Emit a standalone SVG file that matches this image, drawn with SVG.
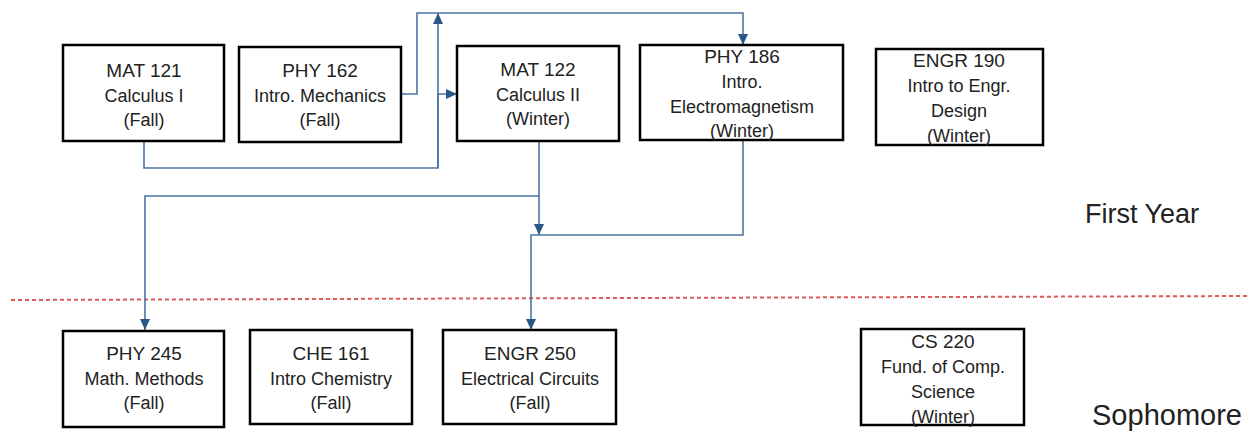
<svg xmlns="http://www.w3.org/2000/svg" width="1256" height="444" viewBox="0 0 1256 444">
<style>
.box{fill:#fff;stroke:#000;stroke-width:2.5}
.t{font-family:"Liberation Sans",Arial,sans-serif;font-size:18px;fill:#222;text-anchor:middle}
.h{font-size:19px}
.lbl{font-family:"Liberation Sans",Arial,sans-serif;fill:#222;text-anchor:middle}
.c{fill:none;stroke:#4A76A3;stroke-width:1.6}
</style>
<defs>
<marker id="arr" markerUnits="userSpaceOnUse" markerWidth="12" markerHeight="12" refX="11" refY="5" orient="auto">
<path d="M0,0 L11,5 L0,10 z" fill="#2A5886"/>
</marker>
</defs>
<line x1="11" y1="300" x2="1248" y2="296" stroke="#E05A5A" stroke-width="2" stroke-dasharray="4 3"/>
<g id="connectors">
<path class="c" d="M144,141 V168 H438 V94 H457" marker-end="url(#arr)"/>
<path class="c" d="M438,168 V13" marker-end="url(#arr)"/>
<path class="c" d="M401,94 H417 V13 H743 V45" marker-end="url(#arr)"/>
<path class="c" d="M539,141 V196 H145 V330" marker-end="url(#arr)"/>
<path class="c" d="M539,196 V235" marker-end="url(#arr)"/>
<path class="c" d="M743,140 V235 H531 V330" marker-end="url(#arr)"/>
</g>
<g id="mat121"><rect class="box" x="63" y="45" width="161" height="96"/>
<text class="t h" x="144" y="77">MAT 121</text><text class="t" x="144" y="102">Calculus I</text><text class="t" x="144" y="126">(Fall)</text></g>
<g id="phy162"><rect class="box" x="239" y="47" width="162" height="95"/>
<text class="t h" x="320" y="77">PHY 162</text><text class="t" x="320" y="102">Intro. Mechanics</text><text class="t" x="320" y="126">(Fall)</text></g>
<g id="mat122"><rect class="box" x="457" y="46" width="162" height="95"/>
<text class="t h" x="538" y="76">MAT 122</text><text class="t" x="538" y="101">Calculus II</text><text class="t" x="538" y="125">(Winter)</text></g>
<g id="phy186"><rect class="box" x="640" y="45" width="203" height="95"/>
<text class="t h" x="742" y="63">PHY 186</text><text class="t" x="742" y="88">Intro.</text><text class="t" x="742" y="113">Electromagnetism</text><text class="t" x="742" y="137">(Winter)</text></g>
<g id="engr190"><rect class="box" x="876" y="49" width="167" height="96"/>
<text class="t h" x="959" y="67">ENGR 190</text><text class="t" x="959" y="92">Intro to Engr.</text><text class="t" x="959" y="117">Design</text><text class="t" x="959" y="142">(Winter)</text></g>
<g id="phy245"><rect class="box" x="63" y="331" width="161" height="96"/>
<text class="t h" x="144" y="360">PHY 245</text><text class="t" x="144" y="385">Math. Methods</text><text class="t" x="144" y="409">(Fall)</text></g>
<g id="che161"><rect class="box" x="250" y="330" width="162" height="94"/>
<text class="t h" x="331" y="360">CHE 161</text><text class="t" x="331" y="385">Intro Chemistry</text><text class="t" x="331" y="409">(Fall)</text></g>
<g id="engr250"><rect class="box" x="443" y="330" width="173" height="94"/>
<text class="t h" x="530" y="360">ENGR 250</text><text class="t" x="530" y="385">Electrical Circuits</text><text class="t" x="530" y="409">(Fall)</text></g>
<g id="cs220"><rect class="box" x="861" y="329" width="163" height="96"/>
<text class="t h" x="943" y="348">CS 220</text><text class="t" x="943" y="373">Fund. of Comp.</text><text class="t" x="943" y="398">Science</text><text class="t" x="943" y="423">(Winter)</text></g>
<text class="lbl" x="1142" y="223" font-size="27">First Year</text>
<text class="lbl" x="1167" y="425" font-size="29">Sophomore</text>
</svg>
